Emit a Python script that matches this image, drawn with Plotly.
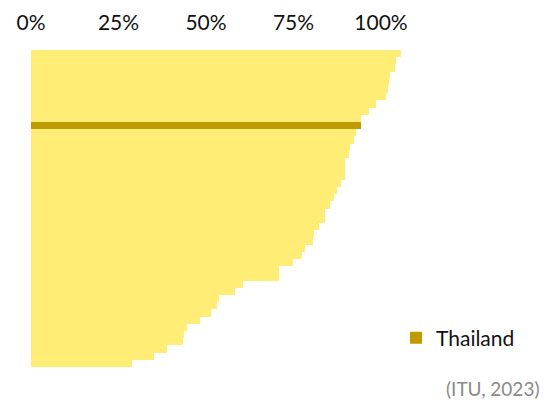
import plotly.graph_objects as go

countries = [f"C{i}" for i in range(1, 45)]
values = [105.7, 104.2, 103.9, 102.5, 102.3, 102.1, 101.3, 98.7, 96.6, 94.2,
          94.2, 92.8, 92.2, 91.0, 90.8, 89.7, 89.7, 89.6, 88.5, 87.3,
          86.7, 85.4, 84.1, 84.0, 82.4, 80.9, 80.5, 78.4, 77.3, 74.8,
          70.9, 70.8, 60.6, 58.2, 53.7, 53.1, 51.5, 48.2, 44.6, 43.6,
          43.4, 38.8, 35.2, 28.9]
highlight_index = 10
highlight_name = "Thailand"
tick_vals = [0, 25, 50, 75, 100]
tick_text = ["0%", "25%", "50%", "75%", "100%"]
source_text = "(ITU, 2023)"

positions = list(range(len(values)))
other_pos = [p for p in positions if p != highlight_index]
other_vals = [values[p] for p in other_pos]

fig = go.Figure()
fig.add_trace(go.Bar(
    x=other_vals, y=other_pos, orientation="h",
    marker=dict(color="#FFED75", line=dict(width=0)),
    showlegend=False, hoverinfo="skip", width=1,
))
fig.add_trace(go.Bar(
    x=[values[highlight_index]], y=[highlight_index], orientation="h",
    marker=dict(color="#BF9B00", line=dict(width=0)),
    name=highlight_name, showlegend=True, width=1,
))

FONT = "Lato, 'Noto Sans', sans-serif"
L, T, W, H = 31, 50, 385, 317
fig.update_layout(
    width=560, height=401,
    margin=dict(l=L, r=560 - L - W, t=T, b=401 - T - H),
    paper_bgcolor="white", plot_bgcolor="white",
    barmode="overlay", bargap=0,
    font=dict(family=FONT, size=21, color="#111111"),
    xaxis=dict(
        side="top", range=[0, 110], tickvals=tick_vals, ticktext=tick_text,
        showgrid=False, zeroline=False, showline=False, ticks="",
        ticklabelstandoff=15, tickfont=dict(size=21, color="#111111"),
        automargin=False,
    ),
    yaxis=dict(
        range=[len(values) - 0.5, -0.5], showticklabels=False,
        showgrid=False, zeroline=False, showline=False, ticks="",
        automargin=False,
    ),
    legend=dict(
        x=(396 - L) / W, xanchor="left", y=(T + H - 338) / H, yanchor="middle",
        font=dict(size=21, color="#111111"), bgcolor="rgba(0,0,0,0)",
    ),
    annotations=[dict(
        text=source_text, xref="paper", yref="paper",
        x=(541 - L) / W, xanchor="right", y=(T + H - 388) / H, yanchor="middle",
        showarrow=False, font=dict(size=19, color="#8a8a8a", family=FONT),
    )],
)

fig.write_html(
    "out.html",
    config={"displayModeBar": False},
    post_script="document.body.style.margin='0';document.body.style.overflow='hidden';",
)
